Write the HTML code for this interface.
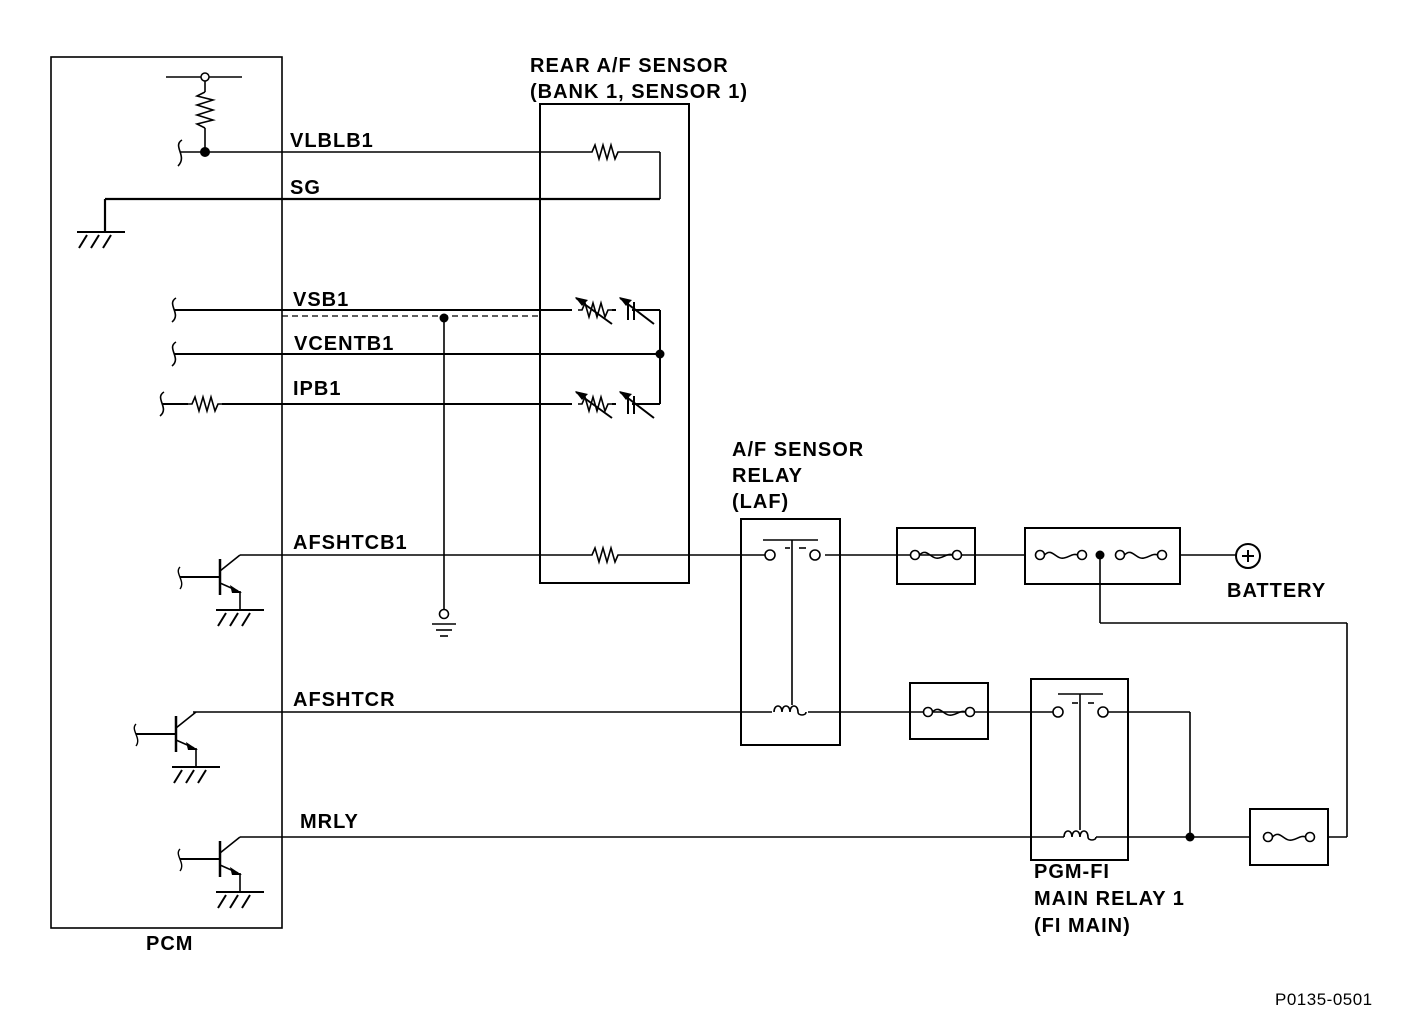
<!DOCTYPE html>
<html><head><style>body{margin:0;background:#fff}svg{display:block}text{font-family:"Liberation Sans",Arial,sans-serif;font-weight:bold;font-size:20px;letter-spacing:1px;fill:#000}</style></head><body>
<svg width="1408" height="1020" viewBox="0 0 1408 1020" xmlns="http://www.w3.org/2000/svg">
<defs>
<g id="gnd"><line x1="-24" y1="0" x2="24" y2="0" stroke="#000" stroke-width="2"/><path d="M-14 3 L-22 16 M-2 3 L-10 16 M10 3 L2 16" stroke="#000" stroke-width="2"/></g>
<g id="res"><path d="M0 0 L4 0 L7 -7 L11 7 L15 -7 L19 7 L23 -7 L27 7 L30 0 L34 0" fill="none" stroke="#000" stroke-width="1.6"/></g>
<g id="fuse"><circle cx="0" cy="0" r="4.5" fill="#fff" stroke="#000" stroke-width="1.6"/><path d="M4.5 0 C12 -8 16 5 24 3 C30 2 32 -2 38 0" fill="none" stroke="#000" stroke-width="1.6"/><circle cx="42" cy="0" r="4.5" fill="#fff" stroke="#000" stroke-width="1.6"/></g>
<g id="var"><use href="#res"/><line x1="-2" y1="-12" x2="34" y2="14" stroke="#000" stroke-width="2"/><path d="M-3 -13 L10 -10 L4 -4 Z" fill="#000"/>
<line x1="50" y1="-8" x2="50" y2="10" stroke="#000" stroke-width="2"/><line x1="56" y1="-8" x2="56" y2="10" stroke="#000" stroke-width="2"/><line x1="42" y1="-12" x2="76" y2="14" stroke="#000" stroke-width="2"/><path d="M41 -13 L54 -10 L48 -4 Z" fill="#000"/></g>
<g id="tr"><line x1="0" y1="-18" x2="0" y2="18" stroke="#000" stroke-width="2.5"/><line x1="-40" y1="0" x2="0" y2="0" stroke="#000" stroke-width="2"/><path d="M-40 -10 C-46 -4 -34 4 -40 12" fill="none" stroke="#000" stroke-width="1.4"/><line x1="0" y1="-6" x2="20" y2="-22" stroke="#000" stroke-width="1.6"/><line x1="0" y1="6" x2="18" y2="14" stroke="#000" stroke-width="1.6"/><path d="M10 8 L22 16 L12 16 Z" fill="#000"/><line x1="20" y1="14" x2="20" y2="32" stroke="#000" stroke-width="1.6"/><use href="#gnd" x="20" y="33"/></g>
</defs>
<g fill="none" stroke="#000">
<rect x="51" y="57" width="231" height="871" stroke-width="1.6"/>
<rect x="540" y="104" width="149" height="479" stroke-width="2"/>
<rect x="741" y="519" width="99" height="226" stroke-width="2"/>
<rect x="897" y="528" width="78" height="56" stroke-width="2"/>
<rect x="1025" y="528" width="155" height="56" stroke-width="2"/>
<rect x="910" y="683" width="78" height="56" stroke-width="2"/>
<rect x="1031" y="679" width="97" height="181" stroke-width="2"/>
<rect x="1250" y="809" width="78" height="56" stroke-width="2"/>
<g stroke-width="1.6">
<line x1="166" y1="77" x2="242" y2="77"/><line x1="205" y1="81" x2="205" y2="92"/><line x1="205" y1="128" x2="205" y2="152"/>
<path d="M205 92 L197 96 L213 100 L197 105 L213 110 L197 115 L213 120 L197 124 L205 128"/>
<path d="M182 140 C172 146 188 156 178 166"/>
<line x1="180" y1="152" x2="588" y2="152"/><line x1="622" y1="152" x2="660" y2="152"/>
<line x1="660" y1="152" x2="660" y2="199"/>
<line x1="105" y1="199" x2="660" y2="199" stroke-width="2.2"/><line x1="105" y1="199" x2="105" y2="232" stroke-width="2.2"/>
<path d="M176 298 C166 304 182 314 172 322"/><line x1="174" y1="310" x2="572" y2="310" stroke-width="2"/>
<line x1="282" y1="316" x2="540" y2="316" stroke-dasharray="6 4" stroke-width="1.2"/>
<line x1="612" y1="310" x2="616" y2="310" stroke-width="2"/><line x1="632" y1="310" x2="660" y2="310" stroke-width="2"/>
<line x1="660" y1="310" x2="660" y2="404" stroke-width="2"/>
<path d="M176 342 C166 348 182 358 172 366"/><line x1="174" y1="354" x2="660" y2="354" stroke-width="2"/>
<path d="M164 392 C154 398 170 408 160 416"/><line x1="162" y1="404" x2="188" y2="404" stroke-width="2"/><line x1="222" y1="404" x2="572" y2="404" stroke-width="2"/>
<line x1="612" y1="404" x2="616" y2="404" stroke-width="2"/><line x1="632" y1="404" x2="660" y2="404" stroke-width="2"/>
<line x1="444" y1="318" x2="444" y2="609"/><circle cx="444" cy="614" r="4.5"/>
<line x1="432" y1="624" x2="456" y2="624"/><line x1="436" y1="630" x2="452" y2="630"/><line x1="440" y1="636" x2="448" y2="636"/>
<line x1="240" y1="555" x2="588" y2="555"/><line x1="622" y1="555" x2="765" y2="555"/><line x1="825" y1="555" x2="1025" y2="555"/><line x1="1180" y1="555" x2="1236" y2="555"/>
<line x1="763" y1="540" x2="818" y2="540"/><line x1="792" y1="540" x2="792" y2="705"/><line x1="785" y1="548" x2="790" y2="548"/><line x1="799" y1="548" x2="806" y2="548"/>
<line x1="1100" y1="555" x2="1100" y2="623"/><line x1="1100" y1="623" x2="1347" y2="623"/><line x1="1347" y1="623" x2="1347" y2="837"/>
<line x1="193" y1="712" x2="772" y2="712"/><line x1="808" y1="712" x2="1053" y2="712"/><line x1="1108" y1="712" x2="1190" y2="712"/>
<path d="M774 712 C774 704 782 704 782 712 C782 704 790 704 790 712 C790 704 798 704 798 712 C798 716 806 716 806 712"/>
<line x1="1058" y1="694" x2="1103" y2="694"/><line x1="1080" y1="694" x2="1080" y2="830"/><line x1="1072" y1="703" x2="1078" y2="703"/><line x1="1088" y1="703" x2="1094" y2="703"/>
<line x1="1190" y1="712" x2="1190" y2="837"/>
<line x1="240" y1="837" x2="1064" y2="837"/><line x1="1096" y1="837" x2="1250" y2="837"/><line x1="1328" y1="837" x2="1347" y2="837"/>
<path d="M1064 837 C1064 829 1072 829 1072 837 C1072 829 1080 829 1080 837 C1080 829 1088 829 1088 837 C1088 841 1096 841 1096 837"/>
</g>
<circle cx="1248" cy="556" r="12" stroke-width="2"/>
</g>
<line x1="1242" y1="556" x2="1254" y2="556" stroke="#000" stroke-width="2"/><line x1="1248" y1="550" x2="1248" y2="562" stroke="#000" stroke-width="2"/>
<circle cx="205" cy="77" r="4" fill="#fff" stroke="#000" stroke-width="1.5"/>
<circle cx="205" cy="152" r="5" fill="#000"/><circle cx="444" cy="318" r="4.5" fill="#000"/><circle cx="660" cy="354" r="4.5" fill="#000"/>
<circle cx="1100" cy="555" r="4.5" fill="#000"/><circle cx="1190" cy="837" r="4.5" fill="#000"/>
<use href="#gnd" x="101" y="232"/>
<use href="#res" x="588" y="152"/><use href="#res" x="188" y="404"/><use href="#res" x="588" y="555"/>
<use href="#var" x="578" y="310"/><use href="#var" x="578" y="404"/>
<use href="#fuse" x="915" y="555"/><use href="#fuse" x="1040" y="555"/><use href="#fuse" x="1120" y="555"/>
<use href="#fuse" x="928" y="712"/><use href="#fuse" x="1268" y="837"/>
<g fill="#fff" stroke="#000" stroke-width="1.6"><circle cx="770" cy="555" r="5"/><circle cx="815" cy="555" r="5"/><circle cx="1058" cy="712" r="5"/><circle cx="1103" cy="712" r="5"/></g>
<use href="#tr" x="220" y="577"/><use href="#tr" x="176" y="734"/><use href="#tr" x="220" y="859"/>
<text x="290" y="147">VLBLB1</text><text x="290" y="194">SG</text><text x="293" y="306">VSB1</text><text x="294" y="350">VCENTB1</text><text x="293" y="395">IPB1</text>
<text x="293" y="549">AFSHTCB1</text><text x="293" y="706">AFSHTCR</text><text x="300" y="828">MRLY</text>
<text x="530" y="72">REAR A/F SENSOR</text><text x="530" y="98">(BANK 1, SENSOR 1)</text>
<text x="732" y="456">A/F SENSOR</text><text x="732" y="482">RELAY</text><text x="732" y="508">(LAF)</text>
<text x="1227" y="597">BATTERY</text><text x="146" y="950">PCM</text>
<text x="1034" y="878">PGM-FI</text><text x="1034" y="905">MAIN RELAY 1</text><text x="1034" y="932">(FI MAIN)</text>
<text x="1275" y="1005" style="font-weight:normal;font-size:17px;letter-spacing:0.5px">P0135-0501</text>
</svg>
</body></html>
